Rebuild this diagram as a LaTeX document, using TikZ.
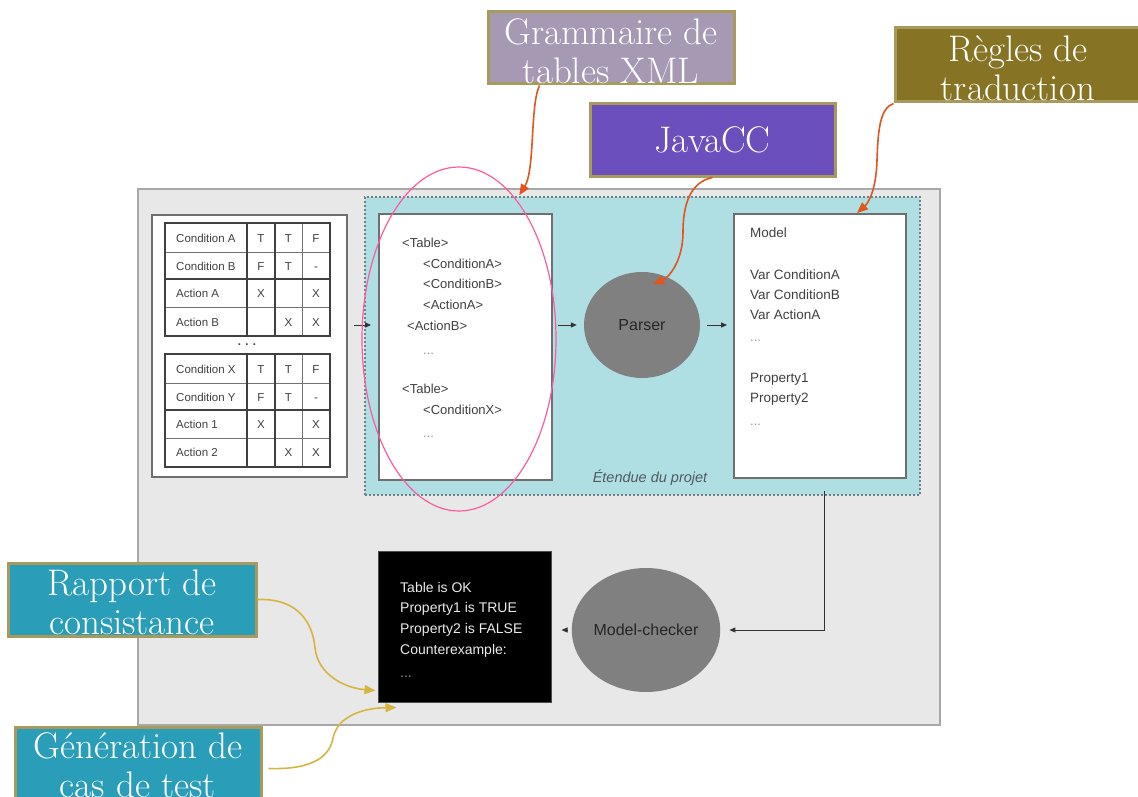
\documentclass[tikz,border=0pt]{standalone}
\usepackage{fontspec}
\newfontfamily\arial{Liberation Sans}
\usetikzlibrary{arrows.meta,calc,shapes.geometric}
\definecolor{outerfill}{HTML}{E8E8E8}
\definecolor{outerborder}{HTML}{A8A8A8}
\definecolor{tealfill}{HTML}{B0DFE3}
\definecolor{tealborder}{HTML}{6E8088}
\definecolor{panelborder}{HTML}{6F6F6F}
\definecolor{circfill}{HTML}{808080}
\definecolor{pinkline}{HTML}{FF5A9E}
\definecolor{orangeline}{HTML}{E0561C}
\definecolor{goldline}{HTML}{D6B640}
\definecolor{lblborder}{HTML}{A89A5C}
\definecolor{gramfill}{HTML}{A699B4}
\definecolor{javafill}{HTML}{6B4FBD}
\definecolor{reglesfill}{HTML}{867323}
\definecolor{bluefill}{HTML}{2A9DB9}
\definecolor{etcol}{HTML}{4D5A60}
\newcommand\lbltext[2]{\raisebox{#1}[0pt][0pt]{\begin{tabular}{@{}c@{}}#2\end{tabular}}}
\newcommand\mytrow[6]{%
  \node[tcell, anchor=base west] (row#1-l) at (176,#2) {#3};
  \node[tcell, anchor=base] (row#1-a) at (261,#2) {#4};
  \node[tcell, anchor=base] (row#1-b) at (288.5,#2) {#5};
  \node[tcell, anchor=base] (row#1-c) at (316,#2) {#6};}
\begin{document}
\begin{tikzpicture}[x=1pt,y=-1pt,
  lblbox/.style={draw=lblborder, line width=3pt, text=white, inner sep=0pt,
    font=\fontsize{37}{39}\selectfont},
  panel/.style={draw=panelborder, line width=1.8pt, fill=white, inner sep=0pt},
  tcell/.style={font=\arial\fontsize{11.5}{13}\selectfont, text=black!75, inner sep=0pt},
  ptext/.style={font=\arial\fontsize{13}{15}\selectfont, text=black!75, inner sep=0pt, anchor=base west},
  wtext/.style={font=\arial\fontsize{14}{16}\selectfont, text=white!92!black, inner sep=0pt, anchor=base west},
  circ/.style={ellipse, fill=circfill, draw=none, inner sep=0pt,
    font=\arial\fontsize{16}{18}\selectfont, text=black!85},
  tbthick/.style={draw=black!75, line width=1.5pt},
  tbthin/.style={draw=black!55, line width=0.8pt},
  blk/.style={-{Triangle[length=6pt,width=5pt]}, line width=1pt, draw=black!80},
  org/.style={draw=orangeline, line width=1.6pt, -{Triangle[length=11pt,width=9pt]}},
  gld/.style={draw=goldline, line width=1.6pt, -{Triangle[length=11pt,width=9pt]}}]
\useasboundingbox (0,0) rectangle (1138,797);
\fill[white] (0,0) rectangle (1138,797);

% main panels
\node[draw=outerborder, fill=outerfill, line width=1.5pt, minimum width=802pt, minimum height=536pt, inner sep=0pt] (outer) at (539,457) {};
\node[draw=tealborder, fill=tealfill, line width=1.5pt, dash pattern=on 2pt off 2pt, minimum width=555pt, minimum height=298pt, inner sep=0pt] (teal) at (642.5,346) {};
\node[panel, minimum width=195pt, minimum height=262pt] (tables) at (249.5,346) {};
\node[panel, minimum width=173pt, minimum height=266pt] (xml) at (465.5,347) {};
\node[panel, minimum width=172pt, minimum height=264pt] (model) at (820,346) {};
\node[fill=black, draw=black!70, line width=1pt, minimum width=173pt, minimum height=151pt, inner sep=0pt] (black) at (464.5,626.5) {};

% decision tables
\foreach \tp in {223,354}{
  \fill[white] (165,\tp) rectangle (330,{\tp+113});
  \draw[tbthin] (165,{\tp+29}) -- (330,{\tp+29});
  \draw[tbthin] (165,{\tp+84}) -- (330,{\tp+84});
  \draw[tbthin] (302,\tp) -- (302,{\tp+113});
  \draw[tbthick] (165,{\tp+56}) -- (330,{\tp+56});
  \draw[tbthick] (247,\tp) -- (247,{\tp+113});
  \draw[tbthick] (275,\tp) -- (275,{\tp+113});
  \draw[tbthick] (165,\tp) rectangle (330,{\tp+113});
}
\mytrow{1}{242}{Condition A}{T}{T}{F}
\mytrow{2}{270}{Condition B}{F}{T}{-}
\mytrow{3}{297.5}{Action A}{X}{}{X}
\mytrow{4}{326}{Action B}{}{X}{X}
\mytrow{5}{373}{Condition X}{T}{T}{F}
\mytrow{6}{401}{Condition Y}{F}{T}{-}
\mytrow{7}{428.5}{Action 1}{X}{}{X}
\mytrow{8}{456.5}{Action 2}{}{X}{X}
\node[tcell, anchor=base] (tdots) at (247,345) {\textbf{. . .}};

% XML text
\foreach \xx/\yy/\tx [count=\i] in {402/247/<Table>, 423/268/<ConditionA>, 423/288/<ConditionB>, 423/309/<ActionA>, 407/330/<ActionB>, 402/393/<Table>, 423/414/<ConditionX>}
  \node[ptext] (xmlline\i) at (\xx,\yy) {\tx};
\node[ptext, text=black!40] (xmldotsa) at (423,354) {...};
\node[ptext, text=black!40] (xmldotsb) at (423,437) {...};

% Model text
\foreach \yy/\tx [count=\i] in {237/Model, 279/Var ConditionA, 299/Var ConditionB, 319/Var ActionA, 382/Property1, 402/Property2}
  \node[ptext, font=\arial\fontsize{13.5}{15}\selectfont] (modline\i) at (750,\yy) {\tx};
\node[ptext, text=black!40] (moddotsa) at (750,341) {...};
\node[ptext, text=black!40] (moddotsb) at (750,425) {...};

% result text
\foreach \yy/\tx [count=\i] in {592/Table is OK, 612/Property1 is TRUE, 633/Property2 is FALSE, 654/Counterexample:}
  \node[wtext] (resline\i) at (400,\yy) {\tx};
\node[wtext, text=white!55!black] (resdots) at (400,677) {...};

% circles
\node[circ, minimum width=116pt, minimum height=106pt] (parser) at (642,325) {Parser};
\node[circ, minimum width=122pt, minimum height=124pt] (mc) at (646,630) {Model-checker};

\node[font=\arial\itshape\fontsize{14.5}{16}\selectfont, text=etcol, inner sep=0pt] (etendue) at (650,478) {Étendue du projet};

% flow arrows
\draw[blk, shorten <=6pt, shorten >=7pt] (tables.east |- parser.center) -- (xml.west |- parser.center);
\draw[blk, shorten <=5pt, shorten >=7pt] (xml.east |- parser.center) -- (parser.west);
\draw[blk, shorten <=7pt, shorten >=6pt] (parser.east) -- (model.west |- parser.center);
\draw[blk, shorten <=12pt, shorten >=9pt] ($(model.south)+(4,0)$) |- (mc.east);
\draw[blk, shorten <=5pt, shorten >=10pt] (mc.west) -- (black.east |- mc.west);

% pink ellipse
\draw[pinkline, line width=1.2pt] (459,339) ellipse [x radius=97, y radius=172];

% labels
\node[lblbox, fill=gramfill, minimum width=246pt, minimum height=72pt] (gram) at (611,48) {\lbltext{-14pt}{Grammaire de\\tables XML}};
\node[lblbox, fill=javafill, minimum width=245pt, minimum height=72pt] (javacc) at (712.5,140) {JavaCC};
\node[lblbox, fill=reglesfill, minimum width=246pt, minimum height=74pt] (regles) at (1018,65) {\lbltext{-14pt}{Règles de\\traduction}};
\node[lblbox, fill=bluefill, minimum width=248pt, minimum height=73pt] (rapport) at (132,599.5) {\lbltext{-13.5pt}{Rapport de\\consistance}};
\node[lblbox, fill=bluefill, minimum width=246pt, minimum height=90pt] (gen) at (138,772) {\lbltext{-4.5pt}{Génération de\\cas de test}};

% orange connectors
\draw[org] ($(gram.south west)+(53,0)$) .. controls (530,105) and (535,170) .. ($(teal.north west)+(155,-1)$);
\draw[org] ($(javacc.south west)+(124,0)$) .. controls (690,182) and (683,205) .. (683,232) .. controls (683,262) and (668,278) .. ($(parser.center)+(11,-41)$);
\draw[org] (regles.south west) .. controls (880,108) and (878,130) .. (877,160) .. controls (876,195) and (866,205) .. ($(model.north)+(37,0)$);

% gold connectors
\draw[gld] (rapport.east) .. controls (300,598) and (313,625) .. (315,648) .. controls (318,675) and (345,688) .. ($(black.south west)+(-2,-12)$);
\draw[gld] ($(gen.north east)+(6,43)$) .. controls (315,770) and (330,755) .. (333,738) .. controls (338,715) and (365,708) .. ($(black.south west)+(19,5)$);
\end{tikzpicture}
\end{document}
